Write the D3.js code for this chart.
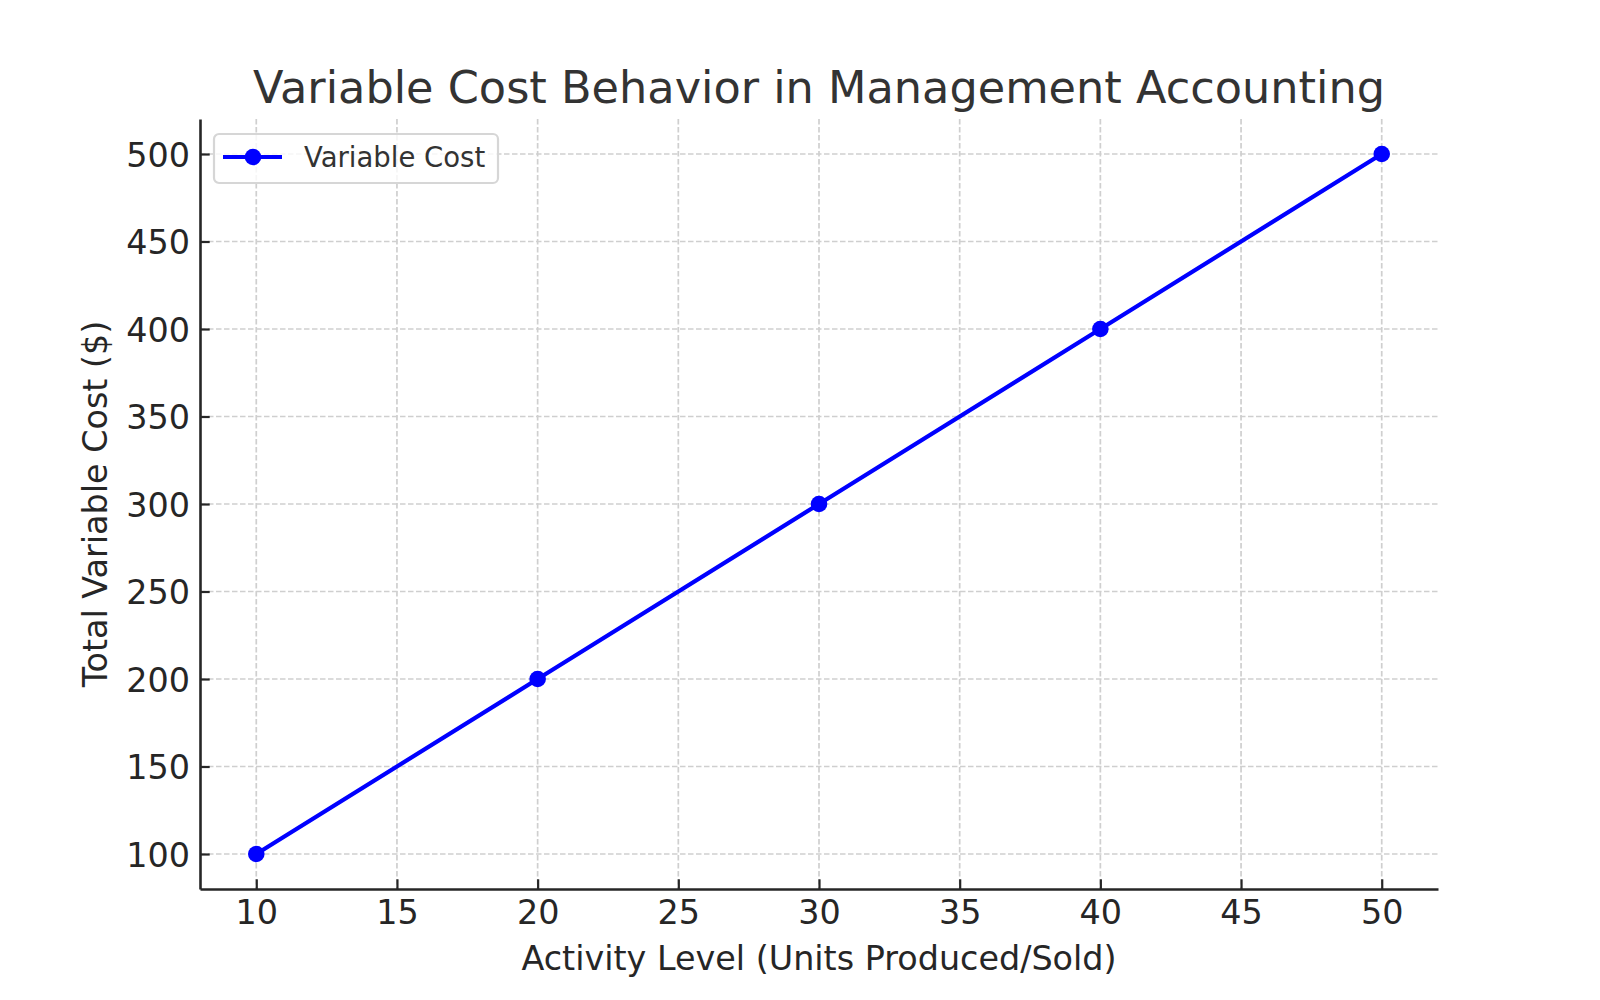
<!DOCTYPE html>
<html>
<head>
<meta charset="utf-8">
<script src="https://cdn.jsdelivr.net/npm/d3@7"></script>
<style>
  html, body { margin: 0; padding: 0; background: #fff; }
  svg text { font-family: "DejaVu Sans", sans-serif; }
</style>
</head>
<body>
<svg id="chart" width="1600" height="1000"></svg>
<script>
// data
const units = [10, 20, 30, 40, 50]
const cost = [100, 200, 300, 400, 500]
const xTicks = [10, 15, 20, 25, 30, 35, 40, 45, 50]
const yTicks = [100, 150, 200, 250, 300, 350, 400, 450, 500]
const seriesName = "Variable Cost"

let svg = d3.select("#chart")
let pLeft = 200, pRight = 1438, pTop = 119, pBottom = 889

// matplotlib style 5% padding on both ends
let x = d3.scaleLinear().domain([8, 52]).range([pLeft, pRight])
let y = d3.scaleLinear().domain([80, 520]).range([pBottom, pTop])

//网格线
let grid = svg.append("g")
grid.selectAll(".vgrid")
    .data(xTicks)
    .enter()
    .append("line")
    .attr("x1", d => x(d)).attr("x2", d => x(d))
    .attr("y1", pTop).attr("y2", pBottom)
    .attr("stroke", "#cfcfcf")
    .attr("stroke-width", 1.7)
    .attr("stroke-dasharray", "5.5,2.5")
grid.selectAll(".hgrid")
    .data(yTicks)
    .enter()
    .append("line")
    .attr("x1", pLeft).attr("x2", pRight)
    .attr("y1", d => y(d)).attr("y2", d => y(d))
    .attr("stroke", "#cfcfcf")
    .attr("stroke-width", 1.7)
    .attr("stroke-dasharray", "5.5,2.5")

// axes, ticks pointing inward
let xAxis = svg.append("g")
    .attr("transform", `translate(0,${pBottom})`)
    .call(d3.axisBottom(x).tickValues(xTicks).tickSizeInner(-9.7).tickSizeOuter(0).tickPadding(11))
let yAxis = svg.append("g")
    .attr("transform", `translate(${pLeft},0)`)
    .call(d3.axisLeft(y).tickValues(yTicks).tickSizeInner(-9.7).tickSizeOuter(0).tickPadding(10))

;[xAxis, yAxis].forEach(a => {
    a.select(".domain").attr("stroke", "#262626").attr("stroke-width", 2.6)
    a.selectAll(".tick line").attr("stroke", "#262626").attr("stroke-width", 2.2)
    a.selectAll(".tick text")
        .attr("fill", "#262626")
        .style("font-size", "33.4px")
        .style("font-family", "DejaVu Sans")
})
xAxis.selectAll(".tick text").attr("dy", "0.72em")
yAxis.selectAll(".tick text").attr("dy", "0.36em")

// line and markers
let pts = units.map((u, i) => ({ u: u, c: cost[i] }))
svg.append("path")
    .datum(pts)
    .attr("fill", "none")
    .attr("stroke", "#0000ff")
    .attr("stroke-width", 4.2)
    .attr("stroke-linejoin", "round")
    .attr("d", d3.line().x(d => x(d.u)).y(d => y(d.c)))
svg.append("g")
    .selectAll("circle")
    .data(pts)
    .enter()
    .append("circle")
    .attr("cx", d => x(d.u))
    .attr("cy", d => y(d.c))
    .attr("r", 8.3)
    .attr("fill", "#0000ff")

// title and axis labels
svg.append("text")
    .attr("x", (pLeft + pRight) / 2)
    .attr("y", 103)
    .attr("text-anchor", "middle")
    .attr("fill", "#333333")
    .style("font-size", "44.6px")
    .text("Variable Cost Behavior in Management Accounting")
svg.append("text")
    .attr("x", (pLeft + pRight) / 2)
    .attr("y", 970)
    .attr("text-anchor", "middle")
    .attr("fill", "#262626")
    .style("font-size", "33.4px")
    .text("Activity Level (Units Produced/Sold)")
svg.append("text")
    .attr("transform", `translate(107,${(pTop + pBottom) / 2}) rotate(-90)`)
    .attr("text-anchor", "middle")
    .attr("fill", "#262626")
    .style("font-size", "33.4px")
    .text("Total Variable Cost ($)")

// legend
let lg = svg.append("g").attr("transform", "translate(214,134)")
lg.append("rect")
    .attr("width", 284).attr("height", 49)
    .attr("rx", 5)
    .attr("fill", "rgba(255,255,255,0.8)")
    .attr("stroke", "#d6d6d6")
    .attr("stroke-width", 2.2)
lg.append("line")
    .attr("x1", 9).attr("x2", 68)
    .attr("y1", 23).attr("y2", 23)
    .attr("stroke", "#0000ff")
    .attr("stroke-width", 4.2)
lg.append("circle")
    .attr("cx", 39).attr("cy", 23).attr("r", 8.3)
    .attr("fill", "#0000ff")
lg.append("text")
    .attr("x", 90).attr("y", 33)
    .attr("fill", "#333333")
    .style("font-size", "27.5px")
    .text(seriesName)
</script>
</body>
</html>
